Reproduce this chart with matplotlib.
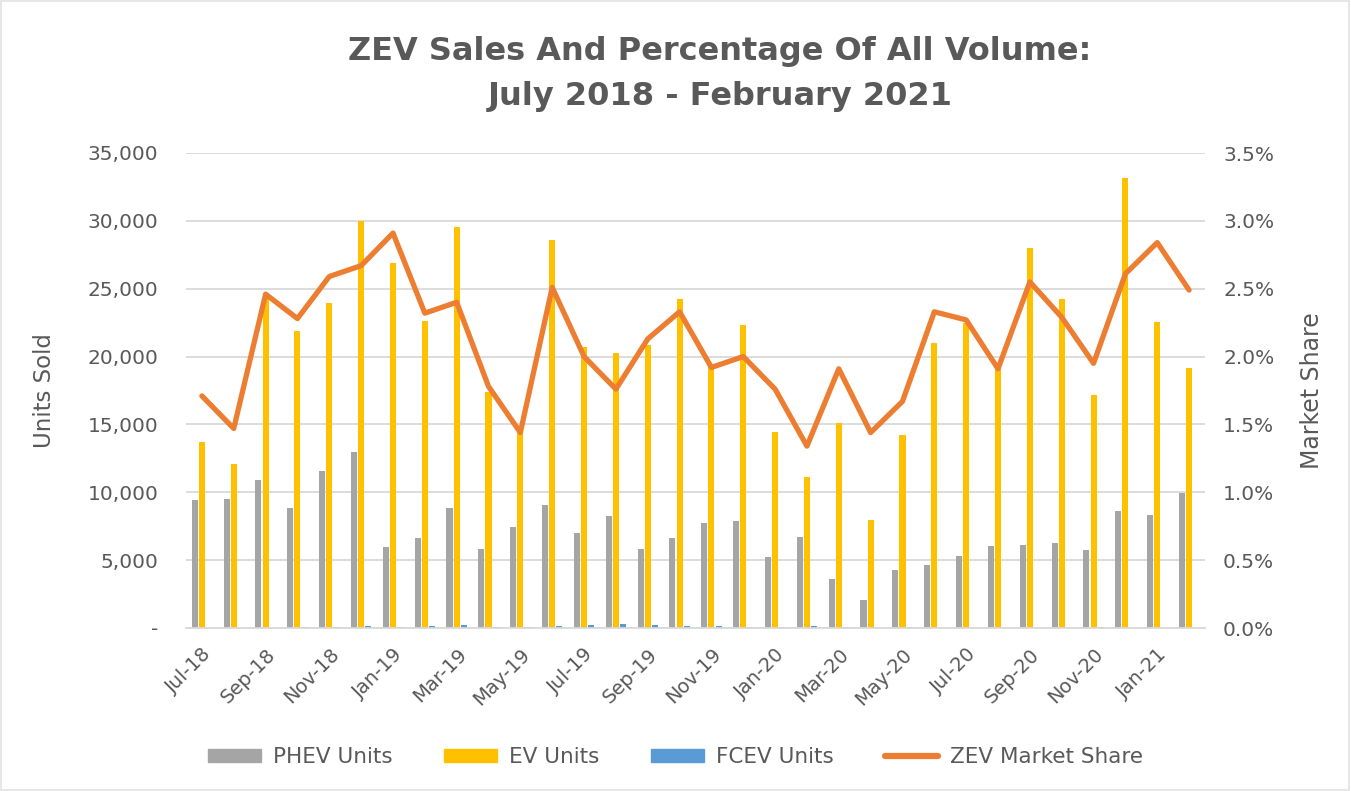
import matplotlib
matplotlib.use("Agg")
import matplotlib.pyplot as plt
import numpy as np
from matplotlib.ticker import FuncFormatter, MultipleLocator
from matplotlib.patches import Patch, Rectangle
from matplotlib.lines import Line2D

months = ["Jul-18", "Aug-18", "Sep-18", "Oct-18", "Nov-18", "Dec-18",
          "Jan-19", "Feb-19", "Mar-19", "Apr-19", "May-19", "Jun-19",
          "Jul-19", "Aug-19", "Sep-19", "Oct-19", "Nov-19", "Dec-19",
          "Jan-20", "Feb-20", "Mar-20", "Apr-20", "May-20", "Jun-20",
          "Jul-20", "Aug-20", "Sep-20", "Oct-20", "Nov-20", "Dec-20",
          "Jan-21", "Feb-21"]

phev_units = [9400, 9500, 10900, 8850, 11600, 13000,
              6000, 6600, 8850, 5800, 7450, 9100,
              7000, 8250, 5800, 6600, 7750, 7900,
              5200, 6700, 3600, 2050, 4300, 4650,
              5300, 6050, 6100, 6250, 5750, 8600,
              8300, 9950]

ev_units = [13700, 12100, 24400, 21900, 23950, 30000,
            26900, 22600, 29550, 17400, 14600, 28600,
            20700, 20300, 20850, 24250, 19300, 22300,
            14450, 11100, 15100, 7950, 14200, 21000,
            22500, 19400, 28000, 24250, 17200, 33150,
            22550, 19150]

fcev_units = [0, 0, 0, 80, 80, 150,
              80, 160, 240, 80, 60, 170,
              250, 300, 220, 170, 150, 80,
              80, 150, 80, 30, 80, 20,
              0, 0, 0, 10, 40, 0,
              0, 0]

zev_share = [1.71, 1.47, 2.46, 2.28, 2.59, 2.67,
             2.91, 2.32, 2.40, 1.78, 1.44, 2.51,
             2.00, 1.76, 2.13, 2.33, 1.92, 2.00,
             1.76, 1.34, 1.91, 1.44, 1.67, 2.33,
             2.27, 1.91, 2.55, 2.29, 1.95, 2.61,
             2.84, 2.49]

title = "ZEV Sales And Percentage Of All Volume:\nJuly 2018 - February 2021"

GRAY = "#A5A5A5"
YELLOW = "#FFC000"
BLUE = "#5B9BD5"
ORANGE = "#ED7D31"
TXT = "#595959"

plt.rcParams['font.family'] = ['DejaVu Sans']

fig = plt.figure(figsize=(13.51, 7.91), dpi=100)
fig.patches.append(Rectangle((0.0005, 0.001), 0.998, 0.998, transform=fig.transFigure,
                             fill=False, edgecolor="#E3E3E3", lw=1.2))
ax = fig.add_axes([186/1351, 1-628/791, (1205-186)/1351, (628-153)/791])
ax2 = ax.twinx()

x = np.arange(len(months))
w = 0.19
off = 0.225
ax.bar(x - off, phev_units, w, color=GRAY, zorder=2)
ax.bar(x, ev_units, w, color=YELLOW, zorder=2)
ax.bar(x + off, fcev_units, w, color=BLUE, zorder=2)

ax2.plot(x, zev_share, color=ORANGE, lw=3.8, solid_joinstyle='round',
         solid_capstyle='round', zorder=3)

ax.set_xlim(-0.5, len(months) - 0.5)
ax.set_ylim(0, 35000)
ax2.set_ylim(0, 3.5)
ax.yaxis.set_major_locator(MultipleLocator(5000))
ax2.yaxis.set_major_locator(MultipleLocator(0.5))
ax.yaxis.set_major_formatter(FuncFormatter(lambda v, p: "-" if v == 0 else f"{int(v):,}"))
ax2.yaxis.set_major_formatter(FuncFormatter(lambda v, p: f"{v:.1f}%"))

ax.grid(axis='y', color="#D9D9D9", lw=1.3, zorder=0)
ax.set_axisbelow(True)
for a in (ax, ax2):
    for s in a.spines.values():
        s.set_visible(False)
ax.spines['bottom'].set_visible(True)
ax.spines['bottom'].set_color("#D9D9D9")
ax.spines['bottom'].set_linewidth(1.3)

ax.set_xticks(x[::2])
ax.set_xticklabels(months[::2], rotation=45, ha='right', rotation_mode='anchor',
                   fontsize=14, color=TXT)
ax.tick_params(axis='x', length=0, pad=12)
ax.tick_params(axis='y', length=0, labelsize=14.5, labelcolor=TXT, pad=20)
ax2.tick_params(axis='y', length=0, labelsize=14.5, labelcolor=TXT, pad=13)

ax.set_ylabel("Units Sold", fontsize=16.5, color=TXT)
ax.yaxis.set_label_coords((56-186)/1019, 0.5)
ax2.set_ylabel("Market Share", fontsize=17, color=TXT)
ax2.yaxis.set_label_coords((1300-186)/1019, 0.5)

fig.text(720/1351, 1 - 74/791, title, ha='center', va='center', fontsize=23,
         fontweight='bold', color=TXT, linespacing=1.55)

handles = [Patch(color=GRAY, label="PHEV Units"),
           Patch(color=YELLOW, label="EV Units"),
           Patch(color=BLUE, label="FCEV Units"),
           Line2D([0], [0], color=ORANGE, lw=4.5, solid_capstyle='round', label="ZEV Market Share")]
leg = fig.legend(handles=handles, loc='center', bbox_to_anchor=(0.5, 1 - 757/791),
                 ncol=4, frameon=False, fontsize=15.5, handlelength=2.45,
                 handleheight=0.6, columnspacing=2.4, handletextpad=0.55)
for t in leg.get_texts():
    t.set_color(TXT)

fig.savefig("out.png", dpi=100)
